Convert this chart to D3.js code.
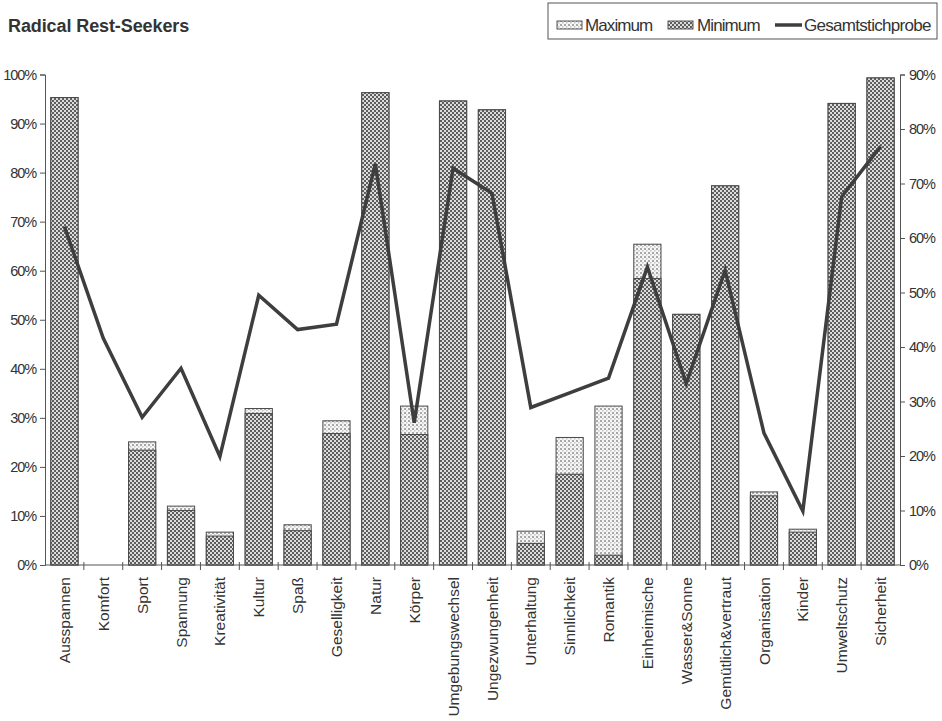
<!DOCTYPE html>
<html><head><meta charset="utf-8">
<script src="https://cdn.jsdelivr.net/npm/d3@7"></script>
<style>
body{margin:0;background:#fff;}
svg{display:block;font-family:"Liberation Sans",Arial,sans-serif;}
</style></head>
<body>
<svg id="c" width="942" height="721"></svg>
<script>
const categories = ["Ausspannen","Komfort","Sport","Spannung","Kreativität","Kultur","Spaß","Geselligkeit","Natur","Körper","Umgebungswechsel","Ungezwungenheit","Unterhaltung","Sinnlichkeit","Romantik","Einheimische","Wasser&Sonne","Gemütlich&vertraut","Organisation","Kinder","Umweltschutz","Sicherheit"];
const minimumValues = [95.3,0,23.4,11.1,5.9,30.9,7.0,26.8,96.3,26.6,94.6,92.8,4.4,18.5,2.0,58.4,51.1,77.3,14.1,6.7,94.1,99.3];
const maximumValues = [95.3,0,25.1,12.0,6.7,31.9,8.2,29.4,96.3,32.4,94.6,92.8,6.9,26.0,32.4,65.4,51.1,77.3,14.9,7.3,94.1,99.3];
const totalSample = [62.1,41.6,27.1,36.1,19.9,49.5,43.2,44.2,73.6,26.1,72.8,68.2,28.9,31.6,34.3,54.7,33.3,54.1,24.2,9.9,67.6,76.8];
const leftTicks = [0,10,20,30,40,50,60,70,80,90,100];
const rightTicks = [0,10,20,30,40,50,60,70,80,90];
const legendLabels = ["Maximum","Minimum","Gesamtstichprobe"];
const title = "Radical Rest-Seekers";

const svg = d3.select("#c");
const L = 45, R = 900, T = 74.5, B = 565;
const x = d3.scaleBand().domain(categories).range([L,R]).paddingInner(0.3).paddingOuter(0.15);
const yL = d3.scaleLinear().domain([0,100]).range([B,T]);
const yR = d3.scaleLinear().domain([0,90]).range([B,T]);

const defs = svg.append("defs");
const pMin = defs.append("pattern").attr("id","pmin").attr("patternUnits","userSpaceOnUse").attr("width",4).attr("height",4);
pMin.append("rect").attr("width",4).attr("height",4).attr("fill","#dcdcdc");
pMin.append("rect").attr("width",2).attr("height",2).attr("fill","#5e5e5e");
pMin.append("rect").attr("x",2).attr("y",2).attr("width",2).attr("height",2).attr("fill","#5e5e5e");
const pMax = defs.append("pattern").attr("id","pmax").attr("patternUnits","userSpaceOnUse").attr("width",4).attr("height",4);
pMax.append("rect").attr("width",4).attr("height",4).attr("fill","#f6f6f6");
pMax.append("rect").attr("width",2).attr("height",2).attr("fill","#a8a8a8");
pMax.append("rect").attr("x",2).attr("y",2).attr("width",1.5).attr("height",1.5).attr("fill","#c4c4c4");

// title
svg.append("text").attr("x",8).attr("y",32).attr("font-size",18).attr("font-weight","bold")
  .attr("letter-spacing","-0.1px").attr("fill","#333").text(title);

// bars
const bars = svg.append("g");
categories.forEach((c,i)=>{
  if (maximumValues[i] > 0) {
    bars.append("rect").attr("x",x(c)).attr("width",x.bandwidth())
      .attr("y",yL(maximumValues[i])).attr("height",yL(0)-yL(maximumValues[i]))
      .attr("fill","url(#pmax)").attr("stroke","#4a4a4a").attr("stroke-width",1);
  }
  if (minimumValues[i] > 0) {
    bars.append("rect").attr("x",x(c)).attr("width",x.bandwidth())
      .attr("y",yL(minimumValues[i])).attr("height",yL(0)-yL(minimumValues[i]))
      .attr("fill","url(#pmin)").attr("stroke","#4a4a4a").attr("stroke-width",1);
  }
});

// line
const line = d3.line().x((d,i)=>x(categories[i])+x.bandwidth()/2).y(d=>yR(d));
svg.append("path").datum(totalSample).attr("d",line).attr("fill","none")
  .attr("stroke","#3e3e3e").attr("stroke-width",3.5).attr("stroke-linejoin","miter");

// axes
const fmt = d=>d+"%";
const gl = svg.append("g").attr("transform",`translate(${L},0)`)
  .call(d3.axisLeft(yL).tickValues(leftTicks).tickFormat(fmt).tickSize(5).tickPadding(4));
const gr = svg.append("g").attr("transform",`translate(${R},0)`)
  .call(d3.axisRight(yR).tickValues(rightTicks).tickFormat(fmt).tickSize(5).tickPadding(4));
[gl,gr].forEach(g=>{
  g.select(".domain").attr("stroke","#555");
  g.selectAll(".tick line").attr("stroke","#555");
  g.selectAll("text").attr("font-size",14.5).attr("letter-spacing","-1.1px").attr("fill","#333")
    .attr("font-family","'Liberation Sans',Arial,sans-serif");
});

// x axis
const gx = svg.append("g").attr("transform",`translate(0,${B})`);
gx.append("line").attr("x1",L).attr("x2",R).attr("stroke","#555");
const step = x.step();
const boundaries = d3.range(1,categories.length).map(i=>x(categories[i]) - x.paddingInner()*step/2);
gx.selectAll(".bt").data(boundaries).join("line").attr("x1",d=>d).attr("x2",d=>d)
  .attr("y1",-3).attr("y2",5).attr("stroke","#555");
gx.selectAll(".lab").data(categories).join("text")
  .attr("transform",d=>`translate(${x(d)+x.bandwidth()/2},12) rotate(-90)`)
  .attr("text-anchor","end").attr("dy","0.36em").attr("font-size",15.5).attr("fill","#333").text(d=>d);

// legend
const lg = svg.append("g");
lg.append("rect").attr("x",548).attr("y",3).attr("width",389).attr("height",36)
  .attr("fill","#fff").attr("stroke","#555").attr("stroke-width",1);
lg.append("rect").attr("x",557).attr("y",21).attr("width",25).attr("height",8).attr("fill","url(#pmax)").attr("stroke","#555");
lg.append("text").attr("x",585).attr("y",31).attr("font-size",17).attr("letter-spacing","-0.9px").attr("fill","#333").text(legendLabels[0]);
lg.append("rect").attr("x",668).attr("y",21).attr("width",25).attr("height",8).attr("fill","url(#pmin)").attr("stroke","#555");
lg.append("text").attr("x",697).attr("y",31).attr("font-size",17).attr("letter-spacing","-0.9px").attr("fill","#333").text(legendLabels[1]);
lg.append("line").attr("x1",775).attr("x2",802).attr("y1",25).attr("y2",25).attr("stroke","#3e3e3e").attr("stroke-width",3.5);
lg.append("text").attr("x",804).attr("y",31).attr("font-size",17).attr("letter-spacing","-0.7px").attr("fill","#333").text(legendLabels[2]);
</script>
</body></html>
